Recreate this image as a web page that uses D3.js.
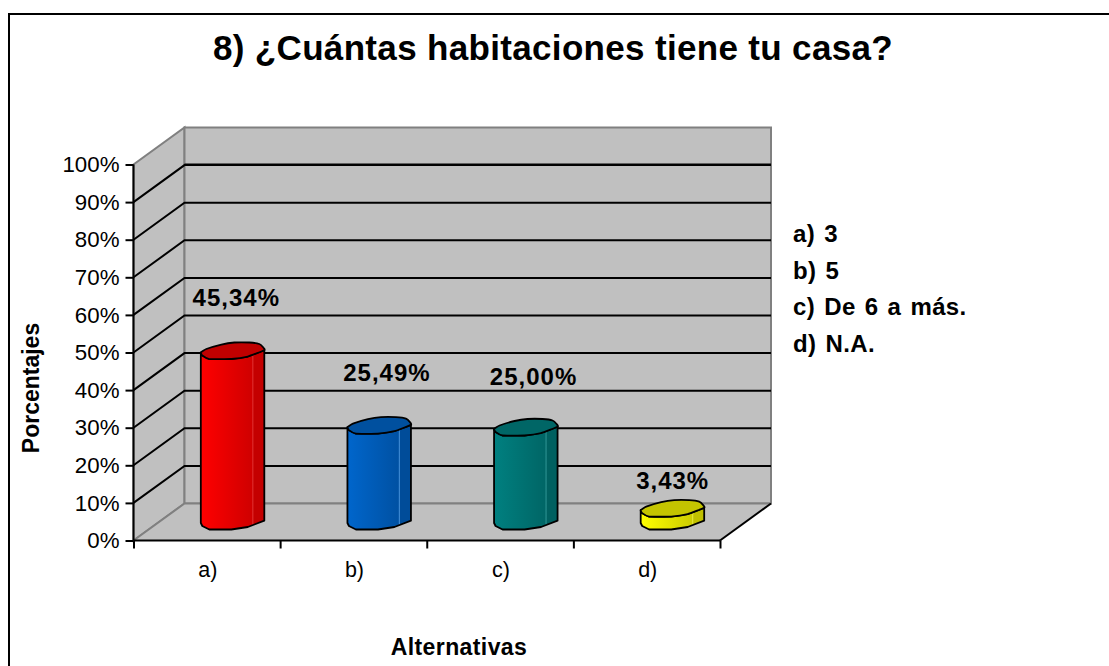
<!DOCTYPE html>
<html lang="es">
<head>
  <meta charset="UTF-8">
  <title>8) ¿Cuántas habitaciones tiene tu casa?</title>
  <style>
    html, body { margin: 0; padding: 0; background: #fff; overflow: hidden; }
    svg { display: block; }
    text { font-family: "Liberation Sans", Arial, sans-serif; fill: #000; }
  </style>
  <script src="https://d3js.org/d3.v7.min.js"></script>
</head>
<body>
  <div id="chart"></div>
  <script>
    const categories = ["a)", "b)", "c)", "d)"];
    const values = [45.34, 25.49, 25.00, 3.43];
    const valueLabels = ["45,34%", "25,49%", "25,00%", "3,43%"];
    const legendLabels = ["a) 3", "b) 5", "c) De 6 a más.", "d) N.A."];
    const yTicks = [0, 10, 20, 30, 40, 50, 60, 70, 80, 90, 100];
    const barColors = [
      { light: "#ff0000", dark: "#c40000", top: "#c00000", edge: "#e03030" },
      { light: "#0066cc", dark: "#004c99", top: "#00509f", edge: "#3a86d0" },
      { light: "#008080", dark: "#006060", top: "#006666", edge: "#2a9090" },
      { light: "#ffff00", dark: "#c0c000", top: "#c4c400", edge: "#e8e840" }
    ];

    const width = 1109, height = 666;
    const depthX = 51, depthY = 37;   // oblique offset of the 3D box
    const x0 = 133.5, x1 = 720;
    const y0 = 540.5, y100 = 164.5;

    const x = d3.scaleBand().domain(categories).range([x0, x1]);
    const xTickScale = d3.scaleLinear().domain([0, categories.length]).range([x0, x1]);
    const y = d3.scaleLinear().domain([0, 100]).range([y0, y100]);

    const svg = d3.select("#chart").append("svg")
      .attr("width", width).attr("height", height);

    // outer frame, only top and left show in the picture
    svg.append("path")
      .attr("d", `M9,${height}V14H${width}`)
      .attr("fill", "none").attr("stroke", "#000").attr("stroke-width", 2);

    svg.append("text")
      .attr("x", 553).attr("y", 60)
      .attr("text-anchor", "middle")
      .attr("font-size", 35).attr("font-weight", "bold")
      .attr("letter-spacing", 0.33)
      .text("8) ¿Cuántas habitaciones tiene tu casa?");

    // walls and floor
    const wall = "#c0c0c0", wallEdge = "#808080";
    svg.append("path")
      .attr("d", `M${x0},${y(0)}V${y(100)}L${x0 + depthX},${y(100) - depthY}V${y(0) - depthY}Z`)
      .attr("fill", wall).attr("stroke", wallEdge).attr("stroke-width", 2);
    svg.append("rect")
      .attr("x", x0 + depthX).attr("y", y(100) - depthY)
      .attr("width", x1 - x0).attr("height", y(0) - y(100))
      .attr("fill", wall).attr("stroke", wallEdge).attr("stroke-width", 2);
    svg.append("path")
      .attr("d", `M${x0},${y(0)}L${x0 + depthX},${y(0) - depthY}H${x1 + depthX}L${x1},${y(0)}Z`)
      .attr("fill", wall);

    // gridlines on side wall and back wall
    svg.append("g").selectAll("path")
      .data(yTicks.filter(d => d > 0 && d < 100))
      .join("path")
      .attr("d", d => `M${x0},${y(d)}L${x0 + depthX},${y(d) - depthY}H${x1 + depthX}`)
      .attr("fill", "none").attr("stroke", "#000").attr("stroke-width", 2);
    svg.append("path")
      .attr("d", `M${x0 + depthX},${y(100)}H${x1 + depthX}`)
      .attr("stroke", "#000").attr("stroke-width", 2);
    svg.append("path")
      .attr("d", `M${x0},${y(0)}L${x0 + depthX},${y(0) - depthY}H${x1 + depthX}`)
      .attr("fill", "none").attr("stroke", wallEdge).attr("stroke-width", 2);
    svg.append("path")
      .attr("d", `M${x1},${y(0)}L${x1 + depthX},${y(0) - depthY}`)
      .attr("stroke", "#000").attr("stroke-width", 2);

    // axes
    const yAxis = svg.append("g")
      .attr("transform", `translate(${x0},0)`)
      .call(d3.axisLeft(y).tickValues(yTicks).tickSize(8).tickPadding(6).tickFormat(d => d + "%"));
    yAxis.selectAll("text").attr("font-size", 22.3).attr("font-family", null);
    yAxis.selectAll("line").attr("stroke", "#000").attr("stroke-width", 2);
    yAxis.select(".domain").attr("stroke", "#000").attr("stroke-width", 2).attr("d", `M0,${y(100)}V${y(0)}`);

    const xAxis = svg.append("g")
      .attr("transform", `translate(0,${y0})`)
      .call(d3.axisBottom(xTickScale).ticks(categories.length).tickSize(8).tickFormat(""));
    xAxis.selectAll("line").attr("stroke", "#000").attr("stroke-width", 2);
    xAxis.select(".domain").attr("stroke", "#000").attr("stroke-width", 2).attr("d", `M${x0},0H${x1}`);

    svg.append("g").selectAll("text")
      .data(categories)
      .join("text")
      .attr("x", d => x(d) + x.bandwidth() / 2 + 1)
      .attr("y", 577)
      .attr("text-anchor", "middle")
      .attr("font-size", 21.5)
      .text(d => d);

    // gradients for the cylinder sides
    const defs = svg.append("defs");
    barColors.forEach((c, i) => {
      const g = defs.append("linearGradient").attr("id", "side" + i);
      [[0, c.light], [0.8, d3.interpolateRgb(c.light, c.dark)(0.8)], [0.82, c.edge], [0.835, c.dark], [1, c.dark]]
        .forEach(s => g.append("stop").attr("offset", s[0]).attr("stop-color", s[1]));
    });

    // lumpy ellipse outline of a cylinder cap, offsets from its centre
    const capFront = [[-31.5, 1], [-30, 4], [-23, 7.5], [-1, 7.5], [15.5, 5], [32, -1.3]];
    const capBack = [[31, -4], [27, -7.5], [17, -9], [2, -9], [-11, -7], [-26, -2.5]];
    const capLine = d3.line().curve(d3.curveLinear);

    const bars = svg.append("g").selectAll("g")
      .data(categories)
      .join("g")
      .attr("transform", d => `translate(${x(d) + x.bandwidth() / 2 + depthX / 2},0)`);

    const baseY = y(0) - depthY / 2;
    bars.append("path")
      .attr("fill", (d, i) => `url(#side${i})`)
      .attr("stroke", "#000").attr("stroke-width", 1.8).attr("stroke-linejoin", "round")
      .attr("d", (d, i) => {
        const h = y(0) - y(values[i]);
        const front = capFront.map(p => [p[0], p[1] + baseY]);
        const topFront = capFront.slice().reverse().map(p => [p[0], p[1] + baseY - h]);
        return capLine(front) + "L" + capLine(topFront).slice(1) + "Z";
      });
    bars.append("path")
      .attr("fill", (d, i) => barColors[i].top)
      .attr("stroke", "#000").attr("stroke-width", 1.8).attr("stroke-linejoin", "round")
      .attr("d", (d, i) => {
        const h = y(0) - y(values[i]);
        return d3.line().curve(d3.curveCardinalClosed.tension(0.6))(
          capFront.concat(capBack).map(p => [p[0], p[1] + baseY - h]));
      });

    // value labels, moved by hand in the original so each has its own offset
    const labelDx = [4, 8, 8, 0.5];
    const labelDy = [-46, -45, -43, -20];
    bars.append("text")
      .attr("x", (d, i) => labelDx[i])
      .attr("y", (d, i) => y(values[i]) - depthY / 2 + labelDy[i])
      .attr("text-anchor", "middle")
      .attr("font-size", 24).attr("font-weight", "bold")
      .attr("letter-spacing", 1)
      .text((d, i) => valueLabels[i]);

    // legend (plain text)
    svg.append("g").selectAll("text")
      .data(legendLabels)
      .join("text")
      .attr("x", 793)
      .attr("y", (d, i) => 242 + i * 36.6)
      .attr("font-size", 24).attr("font-weight", "bold")
      .attr("letter-spacing", 0.4).attr("word-spacing", 2)
      .text(d => d);

    // axis titles
    svg.append("text")
      .attr("x", 459).attr("y", 655)
      .attr("text-anchor", "middle")
      .attr("font-size", 23).attr("font-weight", "bold")
      .attr("letter-spacing", 0.4)
      .text("Alternativas");
    svg.append("text")
      .attr("transform", "translate(38.5,388) rotate(-90)")
      .attr("text-anchor", "middle")
      .attr("font-size", 23).attr("font-weight", "bold")
      .text("Porcentajes");
  </script>
</body>
</html>
